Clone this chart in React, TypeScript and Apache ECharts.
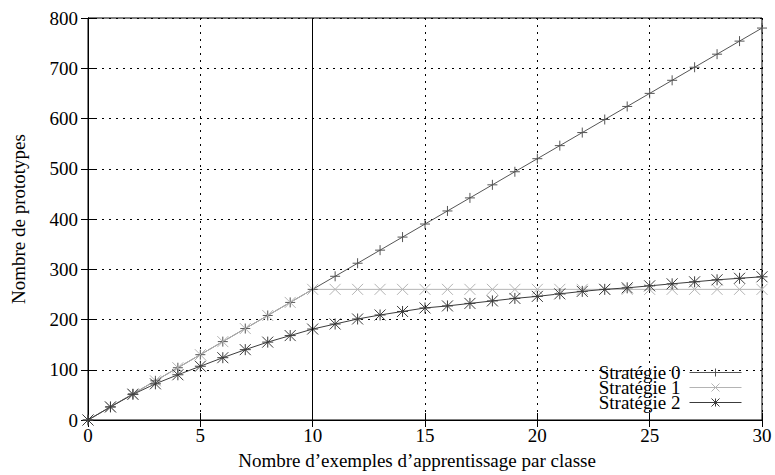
import React, { useEffect, useRef } from "react";
import * as echarts from "echarts";

// Nombre d'exemples d'apprentissage par classe
const exemples = [
  0, 1, 2, 3, 4, 5, 6, 7, 8, 9, 10, 11, 12, 13, 14, 15, 16, 17, 18, 19, 20,
  21, 22, 23, 24, 25, 26, 27, 28, 29, 30,
];

// Nombre de prototypes pour chaque stratégie
const strategie0 = [
  0, 26, 52, 78, 104, 130, 156, 182, 208, 234, 260, 286, 312, 338, 364, 390,
  416, 442, 468, 494, 520, 546, 572, 598, 624, 650, 676, 702, 728, 754, 780,
];
const strategie1 = [
  0, 26, 52, 78, 104, 130, 156, 182, 208, 234, 260, 260, 260, 260, 260, 260,
  260, 260, 260, 260, 260, 260, 260, 260, 260, 260, 260, 260, 260, 260, 260,
];
const strategie2 = [
  0, 26, 51, 72, 90, 107, 124, 140, 155, 168, 181, 191, 201, 209, 216, 223,
  227, 232, 237, 242, 246, 251, 256, 260, 263, 267, 271, 275, 279, 282, 285,
];

const seriesNames = ["Stratégie 0", "Stratégie 1", "Stratégie 2"];
const xTicks = { min: 0, max: 30, interval: 5 };
const yTicks = { min: 0, max: 800, interval: 100 };

const FONT = "Liberation Serif";

const PLUS = "path://M0,5L10,5M5,0L5,10";
const CROSS = "path://M0,0L10,10M0,10L10,0";
const STAR = "path://M0,0L10,10M0,10L10,0M5,0L5,10M0,5L10,5";

function pairs(values: number[]) {
  return exemples.map((x, i) => [x, values[i]]);
}

function lineSeries(
  name: string,
  values: number[],
  color: string,
  symbol: string,
  size: number
) {
  return {
    name,
    type: "line",
    data: pairs(values),
    symbol,
    symbolSize: size,
    symbolKeepAspect: true,
    showAllSymbol: true,
    lineStyle: { color, width: 1 },
    itemStyle: { color, borderColor: color, borderWidth: 1 },
    emphasis: { disabled: true },
  };
}

export default function App() {
  const ref = useRef<HTMLDivElement>(null);

  useEffect(() => {
    if (!ref.current) return;
    const chart = echarts.init(ref.current, undefined, { renderer: "svg" });

    const axisLine = { show: true, lineStyle: { color: "#000", width: 1 } };
    const axisTick = {
      show: true,
      inside: true,
      length: 7,
      lineStyle: { color: "#000", width: 1 },
    };
    const splitLine = {
      show: true,
      lineStyle: { color: "#000", width: 1, type: [2, 5] },
    };
    const label = { fontFamily: FONT, fontSize: 19, color: "#000" };

    const s0 = lineSeries(seriesNames[0], strategie0, "#555555", PLUS, 10) as any;
    s0.markLine = {
      silent: true,
      symbol: ["none", "none"],
      label: { show: false },
      lineStyle: { color: "#000", type: "solid", width: 1 },
      data: [{ xAxis: 10 }],
    };

    chart.setOption({
      animation: false,
      backgroundColor: "#fff",
      textStyle: { fontFamily: FONT },
      grid: {
        left: 88,
        right: 13,
        top: 18,
        bottom: 51,
        show: true,
        borderColor: "#000",
        borderWidth: 1,
      },
      legend: {
        data: seriesNames,
        orient: "vertical",
        right: 33,
        top: 363,
        padding: 0,
        align: "right",
        itemWidth: 52,
        itemHeight: 10,
        itemGap: -4,
        selectedMode: false,
        lineStyle: { width: 1 },
        itemStyle: { borderWidth: 1 },
        textStyle: {
          fontFamily: FONT,
          fontSize: 19,
          color: "#000",
          padding: [0, 4, 0, 0],
        },
      },
      xAxis: [
        {
          type: "value",
          ...xTicks,
          name: "Nombre d’exemples d’apprentissage par classe",
          nameLocation: "middle",
          nameGap: 31,
          nameTextStyle: { ...label, padding: [0, 16, 0, 0] },
          axisLine,
          axisTick,
          axisLabel: { ...label, margin: 6 },
          splitLine,
        },
        {
          type: "value",
          ...xTicks,
          position: "top",
          axisLine,
          axisTick,
          axisLabel: { show: false },
          splitLine: { show: false },
        },
      ],
      yAxis: [
        {
          type: "value",
          ...yTicks,
          name: "Nombre de prototypes",
          nameLocation: "middle",
          nameGap: 60,
          nameRotate: 90,
          nameTextStyle: label,
          axisLine,
          axisTick,
          axisLabel: { ...label, margin: 10 },
          splitLine,
        },
        {
          type: "value",
          ...yTicks,
          position: "right",
          axisLine,
          axisTick,
          axisLabel: { show: false },
          splitLine: { show: false },
        },
      ],
      series: [
        s0,
        lineSeries(seriesNames[1], strategie1, "#b4b4b4", CROSS, 11),
        lineSeries(seriesNames[2], strategie2, "#3c3c3c", STAR, 11),
      ],
    });

    return () => chart.dispose();
  }, []);

  return (
    <div
      ref={ref}
      style={{ position: "fixed", left: 0, top: 0, width: 775, height: 475 }}
    />
  );
}
